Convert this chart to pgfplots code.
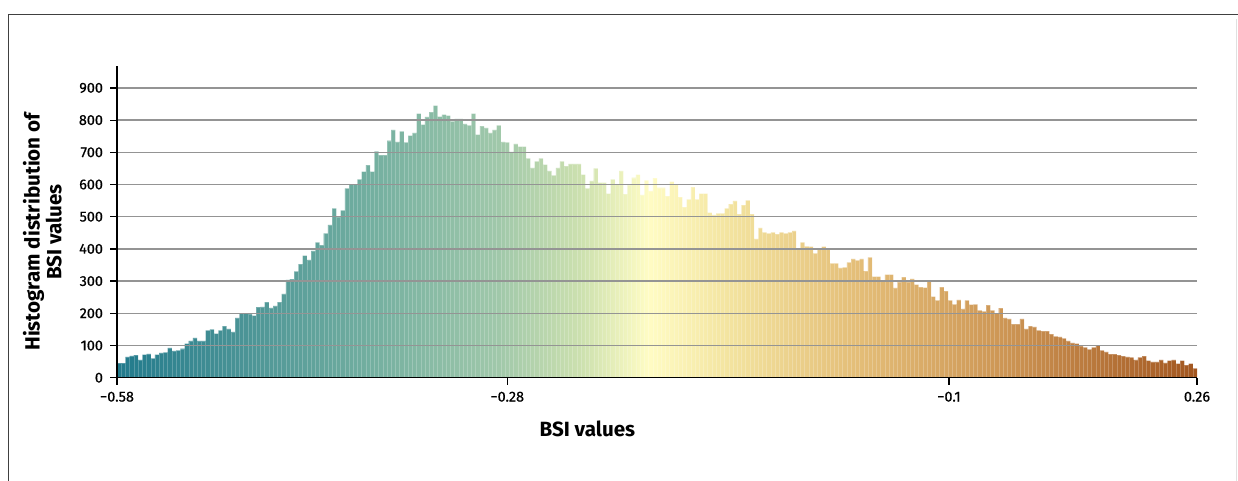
\documentclass[border=0pt]{standalone}
\usepackage{fontspec}
\setmainfont{Fira Sans}
\newfontfamily\tickfont{Fira Sans}[FakeBold=0.6]
\usepackage{pgfplots}
\usepackage{pgfplotstable}
\pgfplotsset{compat=1.18}
\pgfdeclarehorizontalshading{bsi}{100bp}{
 rgb(0bp)=(0.129,0.478,0.549);
 rgb(25bp)=(0.129,0.478,0.549);
 rgb(30.85bp)=(0.294,0.580,0.588);
 rgb(36.7bp)=(0.451,0.686,0.627);
 rgb(42.6bp)=(0.627,0.784,0.667);
 rgb(46.5bp)=(0.804,0.882,0.686);
 rgb(49.6bp)=(1.0,0.988,0.769);
 rgb(53.3bp)=(0.953,0.894,0.627);
 rgb(59.2bp)=(0.894,0.745,0.471);
 rgb(66bp)=(0.804,0.588,0.333);
 rgb(75bp)=(0.635,0.337,0.125);
 rgb(100bp)=(0.635,0.337,0.125)}
\pgfplotstableread[row sep=\\, header=false]{
45\\45\\65\\68\\70\\55\\72\\74\\60\\72\\77\\79\\93\\83\\85\\90\\106\\114\\124\\114\\114\\147\\150\\137\\147\\160\\152\\142\\186\\199\\
200\\198\\193\\219\\220\\235\\217\\223\\235\\260\\304\\306\\330\\353\\379\\366\\394\\420\\412\\448\\475\\526\\500\\520\\588\\600\\600\\616\\640\\660\\
640\\703\\691\\691\\736\\770\\732\\765\\731\\752\\760\\820\\786\\810\\825\\845\\811\\817\\814\\796\\804\\804\\788\\784\\820\\755\\781\\776\\760\\770\\
784\\732\\731\\701\\726\\718\\718\\681\\652\\672\\681\\662\\642\\628\\652\\672\\657\\664\\664\\664\\631\\588\\611\\650\\606\\606\\572\\616\\600\\642\\
570\\598\\621\\631\\568\\613\\580\\620\\590\\590\\564\\609\\600\\561\\530\\554\\592\\554\\572\\572\\513\\506\\510\\510\\526\\539\\549\\508\\536\\551\\
508\\431\\465\\451\\448\\451\\446\\451\\448\\451\\456\\400\\420\\408\\407\\386\\400\\407\\400\\355\\355\\341\\343\\358\\369\\364\\369\\331\\374\\314\\
314\\300\\320\\320\\279\\297\\312\\297\\307\\289\\281\\280\\299\\252\\240\\281\\269\\240\\228\\242\\214\\240\\227\\228\\209\\206\\225\\209\\199\\216\\
186\\183\\166\\166\\183\\152\\160\\158\\147\\145\\145\\135\\128\\127\\122\\114\\108\\106\\98\\94\\88\\94\\101\\85\\80\\73\\73\\70\\67\\65\\
63\\55\\63\\67\\53\\49\\49\\55\\46\\53\\55\\44\\53\\39\\44\\29\\29\\
}\histdata
\begin{document}
\begin{tikzpicture}[x=1pt,y=1pt]
\useasboundingbox (0,0) rectangle (619,240.5);
\draw[black!75, line width=0.6pt] (4.15,-1) -- (4.15,233.2) -- (620,233.2);
\draw[black!12, line width=0.5pt] (618.3,231) -- (618.3,-1);
\begin{axis}[
 at={(58.5pt,51.65pt)}, anchor=south west,
 scale only axis, width=540pt, height=155.85pt,
 xmin=0, xmax=256, ymin=0, ymax=968,
 axis x line*=bottom, axis y line*=left,
 axis line style={line width=0.65pt, black},
 axis on top,
 tick align=outside, major tick length=3.5pt,
 tick style={line width=0.6pt, black},
 xtick={0,92.5,197.2,256},
 xticklabels={−0.58,−0.28,−0.1,0.26},
 ytick={0,100,...,900},
 yticklabels={0,100,200,300,400,500,600,700,800,900},
 ymajorgrids, grid style={line width=0.65pt, black!42},
 ticklabel style={font=\tickfont\fontsize{7.2}{8.6}\selectfont},
 xlabel={BSI values},
 ylabel={Histogram distribution of\\BSI values},
 label style={font=\bfseries\fontsize{10.3}{10.8}\selectfont},
 xlabel style={at={(axis description cs:0.4356,-0.1635)}, anchor=center},
 ylabel style={at={(axis description cs:-0.0691,0.468)}, anchor=center, align=center},
]
\addplot[const plot, draw=none, shading=bsi] table[x expr=\coordindex, y index=0]{\histdata} \closedcycle;
\addplot[ybar, bar width=1, fill=none, draw=white, draw opacity=0.22, line width=0.2pt]
 table[x expr=\coordindex+0.5, y index=0]{\histdata};
\end{axis}
\end{tikzpicture}
\end{document}
